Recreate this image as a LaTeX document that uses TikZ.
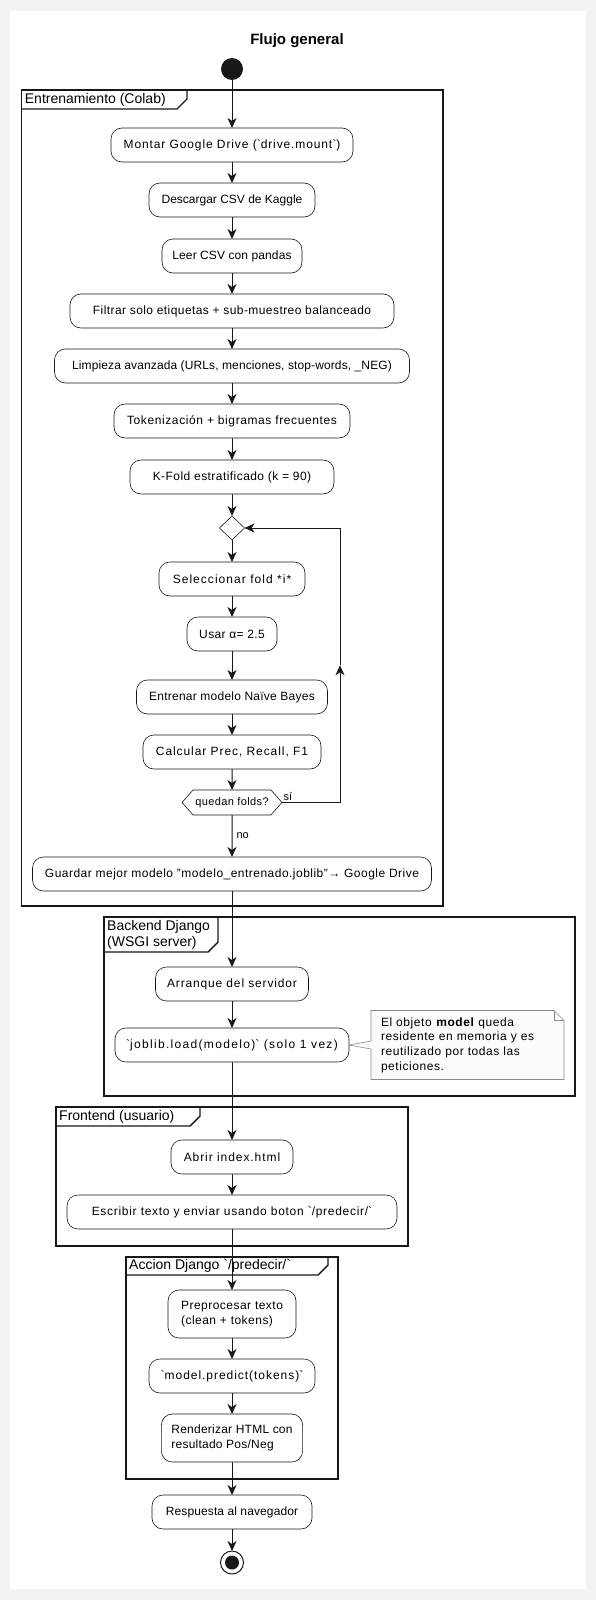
\documentclass[tikz,border=0pt]{standalone}
\usepackage{fontspec}
\setmainfont{Liberation Sans}
\usetikzlibrary{arrows.meta,positioning,calc,shapes.geometric,shapes.symbols}
\definecolor{Page}{HTML}{F3F3F3}
\definecolor{Ink}{HTML}{181818}
\definecolor{NoteFill}{HTML}{FBFBFB}
\definecolor{NoteLine}{HTML}{8A8A8A}
\newcommand{\bq}{\textasciigrave}
\newcommand{\umlframe}[7]{%
  \draw[frm] (#1,#2) rectangle (#3,#4);
  \draw[frm] (#5,#2) -- (#5,{#6-10}) -- ({#5-10},#6) -- (#1,#6);
  \node[tabt] at ({#1+2},{(#2+#6)/2}) {#7};}

\begin{document}
\begin{tikzpicture}[x=1pt,y=-1pt,
    act/.style={draw=Ink,line width=.6pt,fill=white,rounded corners=11pt,minimum height=34pt,inner xsep=10pt,inner ysep=4pt,outer sep=0pt,align=center,font=\fontsize{12}{14.5}\selectfont},
    track/.style={font=\fontsize{12}{14.5}\selectfont\addfontfeatures{LetterSpace=#1}},
    frm/.style={draw=Ink,line width=1.4pt},
    tabt/.style={anchor=west,align=left,inner sep=1pt,font=\fontsize{14}{16}\selectfont},
    nte/.style={fill=NoteFill,text width=173pt,inner xsep=10pt,inner ysep=6pt,outer sep=0pt,minimum height=69pt,align=left,font=\fontsize{12}{14.7}\selectfont\addfontfeatures{LetterSpace=4.7}},
    lbl/.style={inner sep=1pt,font=\fontsize{11}{13}\selectfont},
    a/.style={-{Stealth[length=10pt,width=9pt,inset=3pt]},line width=1pt,draw=Ink}]
    \fill[Page] (0,0) rectangle (596,1600);
    \fill[white] (10,11) rectangle (586,1589);
    \node[font=\bfseries\fontsize{15}{17}\selectfont] (ttl) at (297,41) {Flujo general};

    \umlframe{21.7}{90}{443}{906}{187}{109}{Entrenamiento (Colab)}
    \umlframe{104}{917}{575}{1096}{218}{952}{Backend Django\\(WSGI server)}
    \umlframe{56}{1107}{408}{1246}{200}{1126}{Frontend (usuario)}
    \umlframe{126}{1257}{338}{1479}{328}{1275}{Accion Django \bq/predecir/\bq}

    \node[circle,fill=Ink,minimum size=22pt,inner sep=0pt,outer sep=0pt] (st) at (232,69) {};
    \node[act,track=7.4,minimum width=242pt,below=48pt of st] (mnt) {Montar Google Drive (\bq drive.mount\bq)};
    \node[act,minimum width=166pt,below=21pt of mnt] (dsc) {Descargar CSV de Kaggle};
    \node[act,track=1,minimum width=140pt,below=22pt of dsc] (lee) {Leer CSV con pandas};
    \node[act,track=3.5,minimum width=324pt,below=21pt of lee] (fil) {Filtrar solo etiquetas + sub-muestreo balanceado};
    \node[act,track=1,minimum width=355pt,below=21pt of fil] (lim) {Limpieza avanzada (URLs, menciones, stop-words, \_NEG)};
    \node[act,track=5,minimum width=236pt,below=21pt of lim] (tok) {Tokenización + bigramas frecuentes};
    \node[act,track=3.7,minimum width=204pt,below=22pt of tok] (kf) {K-Fold estratificado (k = 90)};
    \node[diamond,draw=Ink,line width=.6pt,fill=white,minimum width=25pt,minimum height=24pt,inner sep=0pt,outer sep=0pt,below=22pt of kf] (dia) {};
    \node[act,track=8.7,minimum width=146pt,below=22pt of dia] (sel) {Seleccionar fold *i*};
    \node[act,track=3,minimum width=90pt,below=21pt of sel] (usa) {Usar α= 2.5};
    \node[act,track=2,minimum width=191pt,below=29pt of usa] (ent) {Entrenar modelo Naïve Bayes};
    \node[act,track=7.7,minimum width=178pt,below=21pt of ent] (cal) {Calcular Prec, Recall, F1};
    \node[signal,signal to=east and west,signal pointer angle=97,draw=Ink,line width=.6pt,fill=white,minimum width=100pt,minimum height=25pt,inner sep=2pt,outer sep=0pt,
      font=\fontsize{11}{13}\selectfont\addfontfeatures{LetterSpace=3.5},below=21pt of cal] (qf) {quedan folds?};
    \node[act,track=4,minimum width=399pt,below=42pt of qf] (grd) {Guardar mejor modelo "modelo\_entrenado.joblib"→ Google Drive};

    \node[act,track=7,minimum width=153pt,below=76pt of grd] (arr) {Arranque del servidor};
    \node[act,track=11,minimum width=234pt,below=27pt of arr] (jl) {\bq joblib.load(modelo)\bq\ (solo 1 vez)};
    \node[nte,right=22pt of jl] (nt) {El objeto \textbf{model} queda\\residente en memoria y es\\reutilizado por todas las\\peticiones.};

    \node[act,track=7.8,minimum width=122pt,below=78pt of jl] (abr) {Abrir index.html};
    \node[act,track=5.9,minimum width=330pt,below=21pt of abr] (esc) {Escribir texto y enviar usando boton \bq/predecir/\bq};

    \node[act,track=4,align=left,minimum width=128pt,minimum height=48pt,below=61pt of esc] (pre) {Preprocesar texto\\(clean + tokens)};
    \node[act,track=8,minimum width=166pt,below=21pt of pre] (prd) {\bq model.predict(tokens)\bq};
    \node[act,track=2,align=left,minimum width=140pt,minimum height=48pt,below=21pt of prd] (ren) {Renderizar HTML con\\resultado Pos/Neg};
    \node[act,track=1,minimum width=160pt,below=33pt of ren] (res) {Respuesta al navegador};
    \node[circle,draw=Ink,line width=1pt,fill=white,minimum size=23pt,inner sep=0pt,outer sep=0pt,below=22pt of res,
      path picture={\fill[Ink] (path picture bounding box.center) circle (7pt);}] (fin) {};

    \draw[a] (st)--(mnt); \draw[a] (mnt)--(dsc); \draw[a] (dsc)--(lee); \draw[a] (lee)--(fil);
    \draw[a] (fil)--(lim); \draw[a] (lim)--(tok); \draw[a] (tok)--(kf); \draw[a] (kf)--(dia);
    \draw[a] (dia)--(sel); \draw[a] (sel)--(usa); \draw[a] (usa)--(ent); \draw[a] (ent)--(cal);
    \draw[a] (cal)--(qf); \draw[a] (qf)--(grd) node[lbl,midway,right=3pt] {no};
    \coordinate (lpx) at (340,0);
    \coordinate (lp1) at (qf.east -| lpx);
    \coordinate (lp2) at (dia.east -| lpx);
    \draw[a] (qf.east) node[lbl,anchor=south west] {sí} -- (lp1) -- ($(lp1)!.5!(lp2)$);
    \draw[a] ($(lp1)!.5!(lp2)$) -- (lp2) -- (dia.east);
    \draw[a] (grd)--(arr); \draw[a] (arr)--(jl); \draw[a] (jl)--(abr); \draw[a] (abr)--(esc);
    \draw[a] (esc)--(pre); \draw[a] (pre)--(prd); \draw[a] (prd)--(ren); \draw[a] (ren)--(res);
    \draw[a] (res)--(fin);

    \fill[white] ([xshift=-10pt]nt.north east) -- (nt.north east) -- ([yshift=-10pt]nt.north east) -- cycle;
    \fill[NoteFill] ([yshift=-4pt]nt.west) -- (jl.east) -- ([yshift=4pt]nt.west) -- cycle;
    \draw[NoteLine,line width=.6pt] (nt.north west) -- ([xshift=-10pt]nt.north east) -- ([yshift=-10pt]nt.north east)
      -- (nt.south east) -- (nt.south west) -- ([yshift=-4pt]nt.west) -- (jl.east) -- ([yshift=4pt]nt.west) -- cycle;
    \draw[NoteLine,line width=.6pt] ([xshift=-10pt]nt.north east) -- ([xshift=-10pt,yshift=-10pt]nt.north east) -- ([yshift=-10pt]nt.north east);
  \end{tikzpicture}
\end{document}
